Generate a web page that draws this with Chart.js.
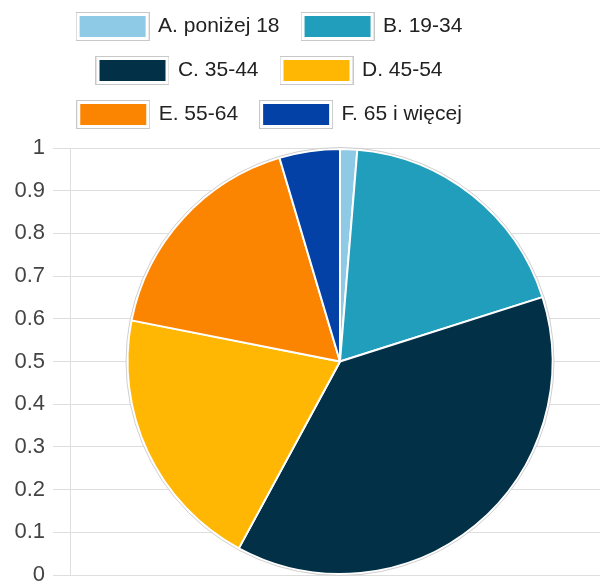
<!DOCTYPE html>
<html>
<head>
<meta charset="utf-8">
<script src="https://cdn.jsdelivr.net/npm/chart.js@4/dist/chart.umd.min.js"></script>
<style>
  html, body { margin: 0; padding: 0; background: #ffffff; overflow: hidden; }
  #wrap { width: 600px; height: 584px; overflow: hidden; position: relative; }
  canvas { display: block; }
</style>
</head>
<body>
<div id="wrap"><canvas id="c" width="610" height="584"></canvas></div>
<script>
const categories = ['A. poniżej 18', 'B. 19-34', 'C. 35-44', 'D. 45-54', 'E. 55-64', 'F. 65 i więcej'];
const shares = [1.3, 18.8, 37.8, 20.2, 17.3, 4.6];
const sliceColors = ['#8ecae6', '#219ebc', '#023047', '#ffb703', '#fb8500', '#0341a6'];
const yAxisMin = 0;
const yAxisMax = 1;
const yAxisStep = 0.1;

const FONT = '"Liberation Sans", Arial, sans-serif';

// legend swatch: grey frame, white gap, colour fill
function makeSwatch(color) {
  const cv = document.createElement('canvas');
  cv.width = 74; cv.height = 29;
  const g = cv.getContext('2d');
  g.fillStyle = '#ffffff';
  g.fillRect(0, 0, 74, 29);
  g.strokeStyle = '#c8c8c8';
  g.lineWidth = 1;
  g.strokeRect(0.5, 0.5, 73, 28);
  g.fillStyle = color;
  g.fillRect(4, 4, 66, 21);
  return cv;
}
const swatches = sliceColors.map(makeSwatch);

const legendShift = {
  id: 'legendShift',
  afterLayout(chart) {
    const l = chart.legend;
    if (!l) return;
    const dx = -70, dy = -13;
    l.left += dx; l.right += dx;
    l.top += dy; l.bottom += dy;
  }
};

const pieOutline = {
  id: 'pieOutline',
  afterDatasetsDraw(chart) {
    const arc = chart.getDatasetMeta(0).data[0];
    if (!arc) return;
    const ctx = chart.ctx;
    ctx.save();
    ctx.beginPath();
    ctx.arc(arc.x, arc.y, arc.outerRadius + 1.5, 0, Math.PI * 2);
    ctx.strokeStyle = '#cfcfcf';
    ctx.lineWidth = 1;
    ctx.stroke();
    ctx.restore();
  }
};

new Chart(document.getElementById('c'), {
  type: 'pie',
  data: {
    labels: categories,
    datasets: [{
      data: shares,
      backgroundColor: sliceColors,
      borderColor: '#ffffff',
      borderWidth: 2
    }]
  },
  options: {
    responsive: false,
    devicePixelRatio: 1,
    animation: false,
    layout: { padding: { top: 6, left: 0, right: 0, bottom: 9 } },
    scales: {
      y: {
        type: 'linear',
        position: 'left',
        min: yAxisMin,
        max: yAxisMax,
        afterFit(s) { s.width = 70; },
        ticks: {
          stepSize: yAxisStep,
          padding: 8,
          color: '#444444',
          font: { family: FONT, size: 22, lineHeight: 0.05 },
          callback: (v) => String(+Number(v).toFixed(1))
        },
        grid: {
          color: '#dedede',
          lineWidth: 1,
          tickLength: 17,
          tickColor: '#dedede'
        },
        border: { color: '#dedede', width: 1 }
      }
    },
    plugins: {
      tooltip: { enabled: false },
      legend: {
        display: true,
        position: 'top',
        fullSize: false,
        align: 'center',
        labels: {
          usePointStyle: true,
          pointStyleWidth: 70,
          boxHeight: 21,
          padding: 23,
          color: '#222222',
          font: { family: FONT, size: 21 },
          generateLabels(chart) {
            return categories.map((t, i) => ({
              text: t,
              fillStyle: sliceColors[i],
              strokeStyle: '#c8c8c8',
              lineWidth: 1,
              pointStyle: swatches[i],
              fontColor: '#222222',
              hidden: !chart.getDataVisibility(i),
              index: i
            }));
          }
        }
      }
    }
  },
  plugins: [legendShift, pieOutline]
});
</script>
</body>
</html>
